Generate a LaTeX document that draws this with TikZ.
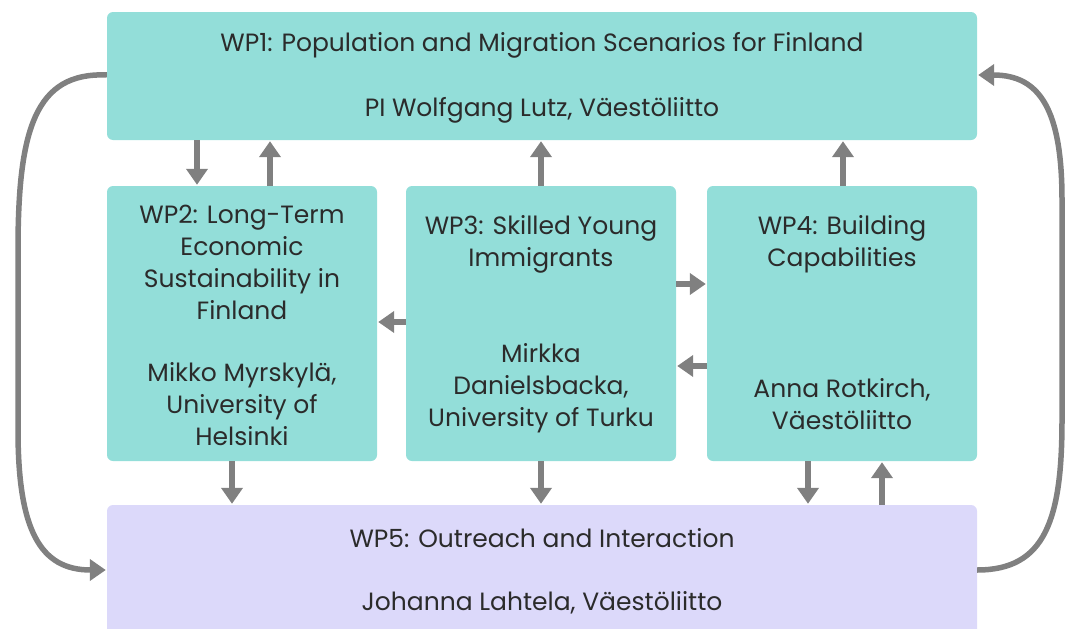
\documentclass[tikz,border=0pt]{standalone}
\usepackage{fontspec}
\setmainfont{Poppins}
\usetikzlibrary{arrows.meta}
\definecolor{wpteal}{HTML}{93DED9}
\definecolor{wplilac}{HTML}{DCD9FA}
\definecolor{wpgray}{HTML}{808080}
\definecolor{wptext}{HTML}{2B2B2B}

\begin{document}
\begin{tikzpicture}[x=1pt,y=-1pt,
box/.style={fill=wpteal, rounded corners=6pt, inner sep=0pt},
lilac/.style={fill=wplilac, rounded corners=6pt, inner sep=0pt},
txt/.style={text=wptext, align=center, font=\fontsize{25}{32}\selectfont},
link/.style={draw=wpgray, line width=5.5pt, shorten >=1pt, -{Triangle[width=21pt,length=16pt]}}]
\useasboundingbox (0,0) rectangle (1077,629);
% boxes
\node[box, minimum width=870pt, minimum height=128pt] (wp1) at (542,76) {};
\node[box, minimum width=270pt, minimum height=275pt] (wp2) at (242,323.5) {};
\node[box, minimum width=270pt, minimum height=275pt] (wp3) at (541,323.5) {};
\node[box, minimum width=270pt, minimum height=275pt] (wp4) at (842,323.5) {};
\node[lilac, minimum width=870pt, minimum height=145pt] (wp5) at (542,577.5) {};
% texts
\node[txt] (t1) at (542,45) {WP1: Population and Migration Scenarios for Finland};
\node[txt] (p1) at (542,110) {PI Wolfgang Lutz, Väestöliitto};
\node[txt] (t2) at (242,262) {WP2: Long-Term\\Economic\\Sustainability in\\Finland};
\node[txt] (p2) at (242,404) {Mikko Myrskylä,\\University of\\Helsinki};
\node[txt] (t3) at (541,244.5) {WP3: Skilled Young\\Immigrants};
\node[txt] (p3) at (541,388) {Mirkka\\Danielsbacka,\\University of Turku};
\node[txt] (t4) at (842,244.5) {WP4: Building\\Capabilities};
\node[txt] (p4) at (842,404) {Anna Rotkirch,\\Väestöliitto};
\node[txt] (t5) at (542,538) {WP5: Outreach and Interaction};
\node[txt] (p5) at (542,603) {Johanna Lahtela, Väestöliitto};
% vertical links
\draw[link] (wp1.south -| 197,0) -- (wp2.north -| 197,0);
\foreach \n/\x in {wp2/270, wp3/541, wp4/843}
    \draw[link] (\n.north -| \x,0) -- (wp1.south -| \x,0);
\foreach \n/\x in {wp2/232, wp3/541, wp4/808}
    \draw[link] (\n.south -| \x,0) -- (wp5.north -| \x,0);
\draw[link] (wp5.north -| 882,0) -- (wp4.south -| 882,0);
% horizontal links
\draw[link] (wp3.west |- 0,322) -- (wp2.east |- 0,322);
\draw[link] (wp3.east |- 0,284) -- (wp4.west |- 0,284);
\draw[link] (wp4.west |- 0,366) -- (wp3.east |- 0,366);
% outer loops
\draw[link] (wp1.west |- 0,75) .. controls (35,72) and (18,130) .. (18,250)
    -- (18,430) .. controls (18,530) and (40,570) .. (wp5.west |- 0,570);
\draw[link] (wp5.east |- 0,570) .. controls (1045,570) and (1062,520) .. (1062,420)
    -- (1062,200) .. controls (1062,110) and (1040,75) .. (wp1.east |- 0,75);
\end{tikzpicture}
\end{document}
